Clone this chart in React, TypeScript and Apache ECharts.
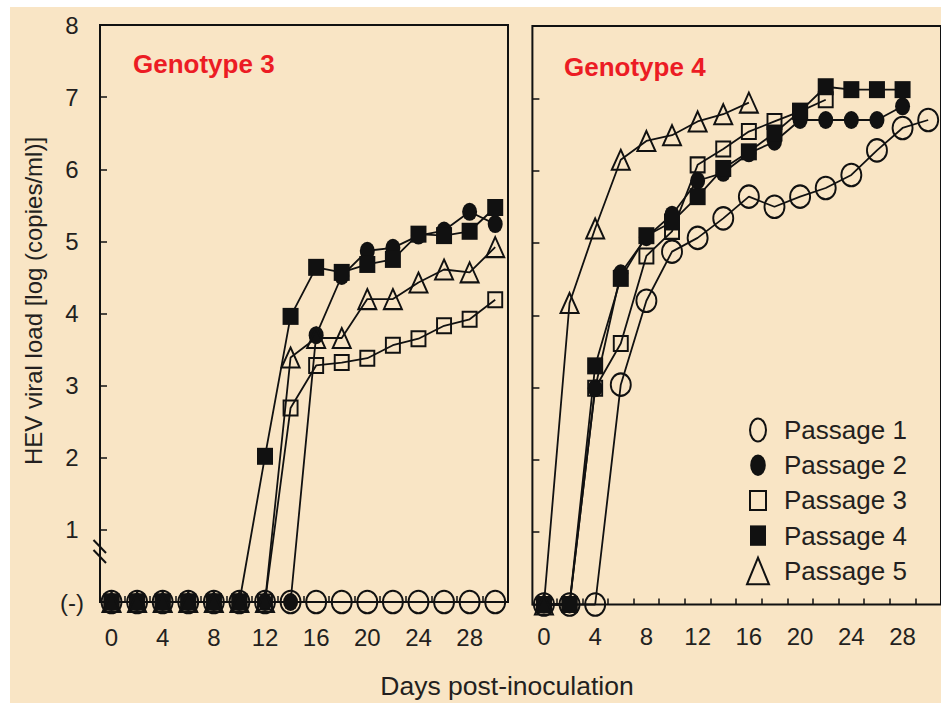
import React, { useEffect, useRef } from 'react';
import * as echarts from 'echarts';

// ---------------- data ----------------
const days = [0, 2, 4, 6, 8, 10, 12, 14, 16, 18, 20, 22, 24, 26, 28, 30];
const passageNames = ['Passage 1', 'Passage 2', 'Passage 3', 'Passage 4', 'Passage 5'];

// Genotype 3 (left panel), log copies/ml; 0 = "(-)" undetected
const g3Passage1 = [0, 0, 0, 0, 0, 0, 0, 0, 0, 0, 0, 0, 0, 0, 0, 0];
const g3Passage2 = [0, 0, 0, 0, 0, 0, 0, 0, 3.7, 4.52, 4.87, 4.91, 5.08, 5.15, 5.41, 5.24];
const g3Passage3 = [0, 0, 0, 0, 0, 0, 0, 2.69, 3.28, 3.32, 3.38, 3.56, 3.65, 3.83, 3.92, 4.19];
const g3Passage4 = [0, 0, 0, 0, 0, 0, 2.02, 3.96, 4.64, 4.57, 4.68, 4.75, 5.1, 5.08, 5.14, 5.47];
const g3Passage5 = [0, 0, 0, 0, 0, 0, 0, 3.39, 3.66, 3.66, 4.2, 4.2, 4.43, 4.61, 4.57, 4.92];

// Genotype 4 (right panel)
const g4Passage1 = [0, 0, 0, 3.04, 4.2, 4.88, 5.07, 5.34, 5.64, 5.5, 5.64, 5.76, 5.94, 6.28, 6.59, 6.7];
const g4Passage2 = [0, 0, 2.99, 4.58, 5.08, 5.39, 5.86, 5.97, 6.24, 6.4, 6.7, 6.7, 6.7, 6.7, 6.89];
const g4Passage3 = [0, 0, 2.99, 3.61, 4.82, 5.16, 6.08, 6.3, 6.54, 6.68, 6.82, 6.98];
const g4Passage4 = [0, 0, 3.3, 4.51, 5.1, 5.29, 5.64, 6.03, 6.26, 6.52, 6.82, 7.16, 7.12, 7.12, 7.12];
const g4Passage5 = [0, 4.17, 5.2, 6.15, 6.41, 6.49, 6.68, 6.78, 6.94];

const xLabelDays = [0, 4, 8, 12, 16, 20, 24, 28];
const xTickDays = [1, 3, 5, 7, 9, 11, 13, 15, 17, 19, 21, 23, 25, 27, 29];
const yLabelText = ['(-)', '1', '2', '3', '4', '5', '6', '7', '8'];

const panelTitles = ['Genotype 3', 'Genotype 4'];
const xTitle = 'Days post-inoculation';
const yTitle = 'HEV viral load [log (copies/ml)]';

// ---------------- styles ----------------
const FONT = '"Liberation Sans", Arial, Helvetica, sans-serif';
const BEIGE = '#F9E5C5';
const INK = '#231F20';
const BLACK = '#111111';
const RED = '#EC1C24';
const CLEAR = 'rgba(0,0,0,0)';

const ELLIPSE = 'path://M10,0A10,10,0,1,1,10,20A10,10,0,1,1,10,0Z';
const RECT = 'path://M0,0H10V10H0Z';
const TRI = 'path://M10,0L20,20H0Z';

const passageStyles = [
  { symbol: ELLIPSE, size: [20, 22.5], fill: CLEAR, border: 2 },
  { symbol: ELLIPSE, size: [15, 18], fill: BLACK, border: 0 },
  { symbol: RECT, size: [14, 15], fill: CLEAR, border: 2 },
  { symbol: RECT, size: [16, 17], fill: BLACK, border: 0 },
  { symbol: TRI, size: [18, 20], fill: CLEAR, border: 2 },
];

// legend icons drawn in a common 28x28 frame (corner moveTos fix the frame)
const legendIcons = [
  'path://M0,0M28,28M14,2.5A8,11.5,0,1,1,14,25.5A8,11.5,0,1,1,14,2.5Z',
  'path://M0,0M28,28M14,3.2A7.8,10.8,0,1,1,14,24.8A7.8,10.8,0,1,1,14,3.2Z',
  'path://M0,0M28,28M6,4.5H22V23.5H6Z',
  'path://M0,0M28,28M6,3.8H22V24.2H6Z',
  'path://M0,0M28,28M14,0.8L25,27.5H3Z',
];

const toPairs = (vals: number[]) => vals.map((v, i) => [days[i], v]);

function makeSeries(name: string, vals: number[], idx: number, styleIdx: number) {
  const s = passageStyles[styleIdx];
  return {
    type: 'line',
    name,
    xAxisIndex: idx,
    yAxisIndex: idx,
    data: toPairs(vals),
    clip: false,
    symbol: s.symbol,
    symbolSize: s.size,
    lineStyle: { color: BLACK, width: 1.8 },
    itemStyle: { color: s.fill, borderColor: BLACK, borderWidth: s.border },
    emphasis: { disabled: true },
  };
}

const g3All = [g3Passage1, g3Passage2, g3Passage3, g3Passage4, g3Passage5];
const g4All = [g4Passage1, g4Passage2, g4Passage3, g4Passage4, g4Passage5];

function xAxisFor(gridIndex: number, margin: number) {
  return {
    type: 'value',
    gridIndex,
    min: -0.9,
    max: 31,
    axisLine: { show: false, onZero: false },
    splitLine: { show: false },
    axisTick: {
      show: true,
      customValues: xTickDays,
      inside: true,
      length: 6,
      lineStyle: { color: BLACK, width: 1.5 },
    },
    axisLabel: {
      show: true,
      customValues: xLabelDays,
      fontSize: 24,
      color: INK,
      fontFamily: FONT,
      margin,
    },
  };
}

function yAxisFor(gridIndex: number, showLabels: boolean) {
  return {
    type: 'value',
    gridIndex,
    min: 0,
    max: 8,
    interval: 1,
    axisLine: { show: false, onZero: false },
    splitLine: { show: false },
    axisTick: { show: true, inside: true, length: 7, lineStyle: { color: BLACK, width: 1.5 } },
    axisLabel: {
      show: showLabels,
      fontSize: 24,
      color: INK,
      fontFamily: FONT,
      align: 'center',
      margin: 28,
      formatter: (v: number) => yLabelText[Math.round(v)] ?? String(v),
    },
  };
}

export default function App() {
  const ref = useRef<HTMLDivElement>(null);

  useEffect(() => {
    if (!ref.current) return;
    const chart = echarts.init(ref.current, undefined, { renderer: 'svg' });

    const series: any[] = [];
    g3All.forEach((vals, i) => series.push(makeSeries(passageNames[i], vals, 0, i)));
    g4All.forEach((vals, i) => series.push(makeSeries(passageNames[i], vals, 1, i)));

    const option: any = {
      animation: false,
      backgroundColor: '#ffffff',
      textStyle: { fontFamily: FONT },
      grid: [
        { left: 100, top: 25, width: 408, height: 577, show: true, borderColor: BLACK, borderWidth: 2, backgroundColor: CLEAR },
        { left: 532.4, top: 26, width: 411.6, height: 578.5, show: true, borderColor: BLACK, borderWidth: 2, backgroundColor: CLEAR },
      ],
      xAxis: [xAxisFor(0, 23), xAxisFor(1, 20)],
      yAxis: [yAxisFor(0, true), yAxisFor(1, false)],
      legend: {
        show: true,
        orient: 'vertical',
        left: 743,
        top: 415,
        padding: 0,
        itemWidth: 42,
        itemHeight: 28,
        itemGap: 6.2,
        selectedMode: false,
        textStyle: { fontSize: 26, color: INK, fontFamily: FONT },
        data: passageNames.map((n, i) => ({
          name: n,
          icon: legendIcons[i],
          itemStyle: {
            color: passageStyles[i].fill,
            borderColor: BLACK,
            borderWidth: passageStyles[i].border,
          },
        })),
      },
      graphic: [
        {
          type: 'rect',
          z: -100,
          silent: true,
          shape: { x: 10, y: 7, width: 931, height: 696 },
          style: { fill: BEIGE },
        },
        {
          type: 'text',
          x: 133,
          y: 64,
          style: { text: panelTitles[0], fill: RED, fontSize: 26, fontWeight: 'bold', fontFamily: FONT, align: 'left', verticalAlign: 'middle' },
        },
        {
          type: 'text',
          x: 564,
          y: 67,
          style: { text: panelTitles[1], fill: RED, fontSize: 26, fontWeight: 'bold', fontFamily: FONT, align: 'left', verticalAlign: 'middle' },
        },
        {
          type: 'text',
          x: 507,
          y: 686,
          style: { text: xTitle, fill: INK, fontSize: 26.5, fontFamily: FONT, align: 'center', verticalAlign: 'middle' },
        },
        {
          type: 'text',
          x: 33,
          y: 301,
          rotation: Math.PI / 2,
          style: { text: yTitle, fill: INK, fontSize: 24, fontFamily: FONT, align: 'center', verticalAlign: 'middle' },
        },
        {
          type: 'line',
          shape: { x1: 93.5, y1: 540, x2: 106, y2: 553 },
          style: { stroke: BLACK, lineWidth: 2 },
        },
        {
          type: 'line',
          shape: { x1: 93.5, y1: 550, x2: 106, y2: 563 },
          style: { stroke: BLACK, lineWidth: 2 },
        },
      ],
      series,
    };

    chart.setOption(option);
    return () => chart.dispose();
  }, []);

  return (
    <div style={{ position: 'absolute', left: 0, top: 0, width: 941, height: 703, overflow: 'hidden' }}>
      <div ref={ref} style={{ width: 941, height: 703 }} />
    </div>
  );
}
